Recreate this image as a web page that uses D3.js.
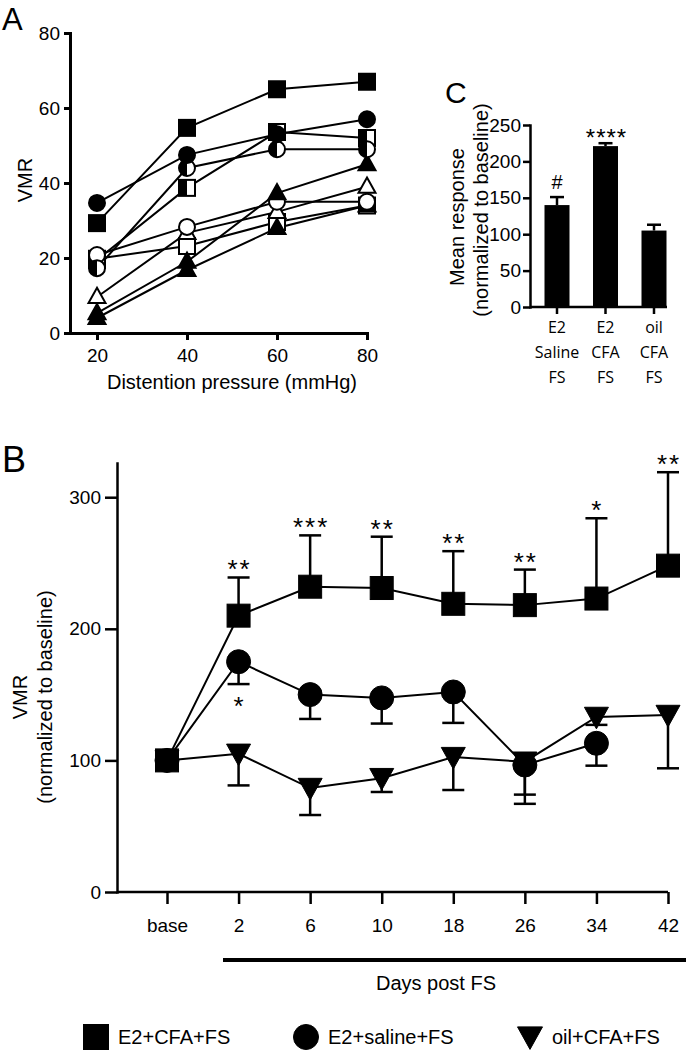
<!DOCTYPE html>
<html><head><meta charset="utf-8">
<script src="https://cdn.jsdelivr.net/npm/d3@7"></script>
<style>body{margin:0;background:#fff}</style>
</head><body><svg id="c" width="686" height="1050"></svg>
<script>
// ---------- DATA ----------
// Panel A: individual animals, VMR vs distention pressure
const aPressure = [20, 40, 60, 80];
const aTicksY = [0, 20, 40, 60, 80];
const aFilledSquare = [29.3, 54.7, 65, 67];
const aFilledCircle = [34.7, 47.5, 53, 57];
const aHalfCircle = [17.3, 44, 49, 49];
const aHalfSquare = [19.5, 38.7, 53.6, 52];
const aOpenCircle = [20.8, 28.3, 35, 35];
const aOpenSquare = [19.8, 23.2, 29.6, 34];
const aOpenTriangle = [9.6, 26.7, 32.3, 39];
const aFilledTriangle1 = [5.3, 19, 37.3, 45];
const aFilledTriangle2 = [4, 16.8, 28, 34];

// Panel B: normalized VMR over days post FS
const bCategories = ["base", "2", "6", "10", "18", "26", "34", "42"];
const bTicksY = [0, 100, 200, 300];
const bE2CFA = [100, 210, 232, 231, 219, 218, 223, 248];
const bE2CFAUpper = [null, 239, 271, 270, 259, 245, 284, 319];
const bE2Saline = [100, 175, 150, 147.5, 152, 96.5, 113, null];
const bE2SalineLower = [null, 158, 131.5, 128, 128.5, 67, 96, null];
const bOilCFA = [100, 105, 79, 86.5, 102.5, 99, 133, 134.5];
const bOilCFALower = [null, 81, 58.5, 76, 77.5, 74, 127, 94];
const bStarsCFA = ["", "**", "***", "**", "**", "**", "*", "**"];
const bStarsSaline = ["", "*", "", "", "", "", "", ""];
const bLegend = ["E2+CFA+FS", "E2+saline+FS", "oil+CFA+FS"];

// Panel C: mean response
const cCategories = ["E2 Saline FS", "E2 CFA FS", "oil CFA FS"];
const cLabelLines = [["E2", "Saline", "FS"], ["E2", "CFA", "FS"], ["oil", "CFA", "FS"]];
const cMeans = [140, 221, 105];
const cErr = [11, 4, 8];
const cSig = ["#", "****", ""];
const cTicksY = [0, 50, 100, 150, 200, 250];

// ---------- DRAWING ----------
const FONT = "'Liberation Sans', Arial, Helvetica, sans-serif";
const svg = d3.select("#c");

function styleAxis(g, fs, sw) {
  g.attr("font-family", FONT).attr("font-size", fs);
  g.selectAll("path.domain").attr("stroke", "#000").attr("stroke-width", sw).attr("stroke-linecap", "square");
  g.selectAll(".tick line").attr("stroke", "#000").attr("stroke-width", sw);
  g.selectAll(".tick text").attr("fill", "#000");
}

function marker(g, shape, fill, x, y, s, sw) {
  const h = s / 2;
  if (shape === "square") {
    g.append("rect").attr("x", x - h).attr("y", y - h).attr("width", s).attr("height", s)
      .attr("fill", fill === "filled" ? "#000" : "#fff").attr("stroke", "#000").attr("stroke-width", sw);
    if (fill === "half") g.append("rect").attr("x", x - h).attr("y", y - h).attr("width", h).attr("height", s).attr("fill", "#000");
  } else if (shape === "circle") {
    g.append("circle").attr("cx", x).attr("cy", y).attr("r", h)
      .attr("fill", fill === "filled" ? "#000" : "#fff").attr("stroke", "#000").attr("stroke-width", sw);
    if (fill === "half") g.append("path").attr("d", `M${x},${y - h} A${h},${h} 0 0 0 ${x},${y + h} Z`).attr("fill", "#000");
  } else if (shape === "triUp") {
    const th = s * 0.9;
    const pts = [[x, y - th * 0.6], [x + h, y + th * 0.4], [x - h, y + th * 0.4]];
    g.append("path").attr("d", "M" + pts.join("L") + "Z")
      .attr("fill", fill === "filled" ? "#000" : "#fff").attr("stroke", "#000").attr("stroke-width", sw).attr("stroke-linejoin", "miter");
    if (fill === "half") g.append("path").attr("d", `M${x},${y - th * 0.6}L${x},${y + th * 0.4}L${x - h},${y + th * 0.4}Z`).attr("fill", "#000");
  } else if (shape === "triDown") {
    const th = s * 0.9;
    const pts = [[x - h, y - th * 0.45], [x + h, y - th * 0.45], [x, y + th * 0.55]];
    g.append("path").attr("d", "M" + pts.join("L") + "Z")
      .attr("fill", "#000").attr("stroke", "#000").attr("stroke-width", sw);
  }
}

// ===== Panel A =====
const xA = d3.scaleLinear().domain([14, 80]).range([70, 367]);
const yA = d3.scaleLinear().domain([0, 80]).range([333, 33]);
const gA = svg.append("g");
const aAnimals = [
  { v: aOpenSquare, shape: "square", fill: "open" },
  { v: aHalfSquare, shape: "square", fill: "half" },
  { v: aFilledTriangle2, shape: "triUp", fill: "filled" },
  { v: aOpenTriangle, shape: "triUp", fill: "open" },
  { v: aOpenCircle, shape: "circle", fill: "open" },
  { v: aFilledTriangle1, shape: "triUp", fill: "filled" },
  { v: aHalfCircle, shape: "circle", fill: "half" },
  { v: aFilledCircle, shape: "circle", fill: "filled" },
  { v: aFilledSquare, shape: "square", fill: "filled" }
];
const lineA = d3.line().x((d, i) => xA(aPressure[i])).y(d => yA(d));
aAnimals.forEach(a => {
  gA.append("path").attr("d", lineA(a.v)).attr("fill", "none").attr("stroke", "#000").attr("stroke-width", 2);
});
aAnimals.forEach(a => {
  a.v.forEach((d, i) => marker(gA, a.shape, a.fill, xA(aPressure[i]), yA(d), a.shape === "triUp" ? 17 : 16, 2));
});
const axAy = gA.append("g").attr("transform", "translate(70,0)")
  .call(d3.axisLeft(yA).tickValues(aTicksY).tickSize(6).tickSizeOuter(0).tickPadding(4));
styleAxis(axAy, 19, 3);
const axAx = gA.append("g").attr("transform", "translate(0,333)")
  .call(d3.axisBottom(xA).tickValues(aPressure).tickSize(7).tickSizeOuter(0));
styleAxis(axAx, 19, 3);
axAx.selectAll(".tick text").attr("y", 29).attr("dy", 0);
gA.append("text").attr("x", 232).attr("y", 389).attr("text-anchor", "middle")
  .attr("font-family", FONT).attr("font-size", 20).text("Distention pressure (mmHg)");
gA.append("text").attr("transform", "translate(32,180) rotate(-90)").attr("text-anchor", "middle")
  .attr("font-family", FONT).attr("font-size", 20).text("VMR");
gA.append("text").attr("x", 2).attr("y", 30).attr("font-family", FONT).attr("font-size", 31).text("A");

// ===== Panel C =====
const xC = d3.scalePoint().domain(cCategories).range([557, 654]);
const yC = d3.scaleLinear().domain([0, 250]).range([307, 125]);
const gC = svg.append("g");
cCategories.forEach((c, i) => {
  const x = xC(c);
  gC.append("line").attr("x1", x).attr("x2", x).attr("y1", yC(cMeans[i])).attr("y2", yC(cMeans[i] + cErr[i]))
    .attr("stroke", "#000").attr("stroke-width", 2.5);
  gC.append("line").attr("x1", x - 7).attr("x2", x + 7).attr("y1", yC(cMeans[i] + cErr[i])).attr("y2", yC(cMeans[i] + cErr[i]))
    .attr("stroke", "#000").attr("stroke-width", 2.5);
  gC.append("rect").attr("x", x - 12.5).attr("width", 25).attr("y", yC(cMeans[i])).attr("height", yC(0) - yC(cMeans[i])).attr("fill", "#000");
});
const axCy = gC.append("g").attr("transform", "translate(530,0)")
  .call(d3.axisLeft(yC).tickValues(cTicksY).tickSize(7).tickSizeOuter(0).tickPadding(2));
styleAxis(axCy, 19, 2.5);
gC.append("line").attr("x1", 530).attr("x2", 667).attr("y1", 307).attr("y2", 307).attr("stroke", "#000").attr("stroke-width", 2.5);
cCategories.forEach((c, i) => {
  const x = xC(c);
  gC.append("line").attr("x1", x).attr("x2", x).attr("y1", 307).attr("y2", 314).attr("stroke", "#000").attr("stroke-width", 2.5);
  cLabelLines[i].forEach((t, j) => {
    gC.append("text").attr("x", x).attr("y", 333 + j * 25).attr("text-anchor", "middle")
      .attr("font-family", "'Open Sans', 'DejaVu Sans', sans-serif").attr("font-size", 16).text(t);
  });
  if (cSig[i]) {
    const isHash = cSig[i] === "#";
    gC.append("text").attr("x", x + (isHash ? 0 : 1)).attr("y", isHash ? yC(cMeans[i] + cErr[i]) - 8 : yC(cMeans[i] + cErr[i]) + 3)
      .attr("text-anchor", "middle").attr("font-family", FONT).attr("font-size", isHash ? 20 : 24)
      .attr("letter-spacing", isHash ? 0 : 1).text(cSig[i]);
  }
});
gC.append("text").attr("transform", "translate(464,217) rotate(-90)").attr("text-anchor", "middle")
  .attr("font-family", FONT).attr("font-size", 20).text("Mean response");
gC.append("text").attr("transform", "translate(488,210) rotate(-90)").attr("text-anchor", "middle")
  .attr("font-family", FONT).attr("font-size", 20).text("(normalized to baseline)");
gC.append("text").attr("x", 445).attr("y", 103).attr("font-family", FONT).attr("font-size", 30).text("C");

// ===== Panel B =====
const xB = d3.scalePoint().domain(bCategories).range([167, 668]);
const yB = d3.scaleLinear().domain([0, 326]).range([892, 463]);
const gB = svg.append("g");
const series = [
  { v: bOilCFA, err: bOilCFALower, shape: "triDown", size: 24 },
  { v: bE2Saline, err: bE2SalineLower, shape: "circle", size: 24 },
  { v: bE2CFA, err: bE2CFAUpper, shape: "square", size: 23 }
];
series.forEach(s => {
  const ln = d3.line().defined(d => d != null).x((d, i) => xB(bCategories[i])).y(d => yB(d));
  gB.append("path").attr("d", ln(s.v)).attr("fill", "none").attr("stroke", "#000").attr("stroke-width", 2);
});
series.forEach(s => {
  s.v.forEach((d, i) => {
    if (d == null) return;
    const x = xB(bCategories[i]);
    if (s.err[i] != null) {
      gB.append("line").attr("x1", x).attr("x2", x).attr("y1", yB(d)).attr("y2", yB(s.err[i])).attr("stroke", "#000").attr("stroke-width", 2.5);
      gB.append("line").attr("x1", x - 11).attr("x2", x + 11).attr("y1", yB(s.err[i])).attr("y2", yB(s.err[i])).attr("stroke", "#000").attr("stroke-width", 2.5);
    }
  });
  s.v.forEach((d, i) => {
    if (d == null) return;
    marker(gB, s.shape, "filled", xB(bCategories[i]), yB(d), s.size, 1);
  });
});
bStarsCFA.forEach((t, i) => {
  if (!t) return;
  gB.append("text").attr("x", xB(bCategories[i]) + 1).attr("y", yB(bE2CFAUpper[i]) + 1).attr("text-anchor", "middle")
    .attr("font-family", FONT).attr("font-size", 26).attr("letter-spacing", 2).text(t);
});
bStarsSaline.forEach((t, i) => {
  if (!t) return;
  gB.append("text").attr("x", xB(bCategories[i])).attr("y", yB(bE2SalineLower[i]) + 31).attr("text-anchor", "middle")
    .attr("font-family", FONT).attr("font-size", 26).text(t);
});
const axBy = gB.append("g").attr("transform", "translate(117,0)")
  .call(d3.axisLeft(yB).tickValues(bTicksY).tickSize(12).tickSizeOuter(0).tickPadding(4));
styleAxis(axBy, 19, 2.5);
gB.append("line").attr("x1", 117).attr("x2", 668).attr("y1", 892).attr("y2", 892).attr("stroke", "#000").attr("stroke-width", 2.5);
const axBx = gB.append("g").attr("transform", "translate(0,892)")
  .call(d3.axisBottom(xB).tickSize(12).tickSizeOuter(0));
styleAxis(axBx, 19, 2.5);
axBx.select("path.domain").remove();
axBx.selectAll(".tick text").attr("y", 40).attr("dy", 0);
gB.append("line").attr("x1", 223).attr("x2", 686).attr("y1", 960).attr("y2", 960).attr("stroke", "#000").attr("stroke-width", 4);
gB.append("text").attr("x", 436).attr("y", 990).attr("text-anchor", "middle")
  .attr("font-family", FONT).attr("font-size", 20).text("Days post FS");
gB.append("text").attr("transform", "translate(27,697) rotate(-90)").attr("text-anchor", "middle")
  .attr("font-family", FONT).attr("font-size", 20).text("VMR");
gB.append("text").attr("transform", "translate(52,697) rotate(-90)").attr("text-anchor", "middle")
  .attr("font-family", FONT).attr("font-size", 20).text("(normalized to baseline)");
gB.append("text").attr("x", 2).attr("y", 472).attr("font-family", FONT).attr("font-size", 36).text("B");

// Legend
const legShapes = ["square", "circle", "triDown"];
const legX = [96, 306, 530];
bLegend.forEach((t, i) => {
  marker(gB, legShapes[i], "filled", legX[i], 1037, 25, 1);
  gB.append("text").attr("x", legX[i] + 22).attr("y", 1044).attr("font-family", FONT).attr("font-size", 20).text(t);
});
</script></body></html>
